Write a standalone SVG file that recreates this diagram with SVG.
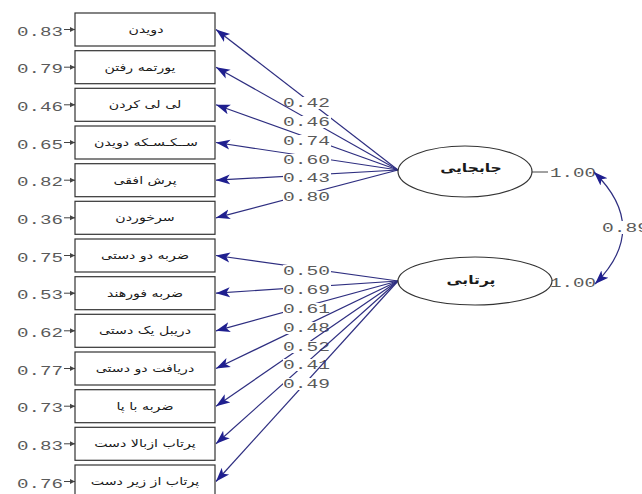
<svg xmlns="http://www.w3.org/2000/svg" width="642" height="494" viewBox="0 0 642 494">
<style>
.box{fill:#fff;stroke:#333;stroke-width:1.2}
.ell{fill:#fff;stroke:#333;stroke-width:1.2}
.fa{font-family:"DejaVu Sans",sans-serif;font-size:10.5px;fill:#1a1a1a;text-anchor:middle}
.fl{font-family:"DejaVu Sans",sans-serif;font-size:12px;font-weight:bold;fill:#1a1a1a;text-anchor:middle}
.num{font-family:"Liberation Mono",monospace;font-size:13px;fill:#5a5a5a}
.ld{stroke:#2e2e80;stroke-width:1.2;fill:none}
.er{stroke:#444;stroke-width:1;fill:none}
.bg{fill:#fff}
</style>
<defs>
<marker id="ah" markerUnits="userSpaceOnUse" markerWidth="16" markerHeight="12" refX="14" refY="5" orient="auto-start-reverse" viewBox="0 0 16 10">
<path d="M0,0 L14,5 L0,10 L3.5,5 Z" fill="#1f1f8f"/>
</marker>
<marker id="ahs" markerUnits="userSpaceOnUse" markerWidth="6" markerHeight="6" refX="5" refY="2.5" orient="auto" viewBox="0 0 6 5">
<path d="M0,0 L5,2.5 L0,5 Z" fill="#444"/>
</marker>
</defs>

<g id="connectors">
<line class="er" x1="64" y1="29.5" x2="75" y2="29.5" marker-end="url(#ahs)"/>
<line class="er" x1="64" y1="67.2" x2="75" y2="67.2" marker-end="url(#ahs)"/>
<line class="er" x1="64" y1="104.8" x2="75" y2="104.8" marker-end="url(#ahs)"/>
<line class="er" x1="64" y1="142.5" x2="75" y2="142.5" marker-end="url(#ahs)"/>
<line class="er" x1="64" y1="180.2" x2="75" y2="180.2" marker-end="url(#ahs)"/>
<line class="er" x1="64" y1="217.8" x2="75" y2="217.8" marker-end="url(#ahs)"/>
<line class="er" x1="64" y1="255.5" x2="75" y2="255.5" marker-end="url(#ahs)"/>
<line class="er" x1="64" y1="293.2" x2="75" y2="293.2" marker-end="url(#ahs)"/>
<line class="er" x1="64" y1="330.8" x2="75" y2="330.8" marker-end="url(#ahs)"/>
<line class="er" x1="64" y1="368.5" x2="75" y2="368.5" marker-end="url(#ahs)"/>
<line class="er" x1="64" y1="406.2" x2="75" y2="406.2" marker-end="url(#ahs)"/>
<line class="er" x1="64" y1="443.8" x2="75" y2="443.8" marker-end="url(#ahs)"/>
<line class="er" x1="64" y1="481.5" x2="75" y2="481.5" marker-end="url(#ahs)"/>
<text class="num" x="17" y="35.5" textLength="46" lengthAdjust="spacingAndGlyphs">0.83</text>
<text class="num" x="17" y="73.2" textLength="46" lengthAdjust="spacingAndGlyphs">0.79</text>
<text class="num" x="17" y="110.8" textLength="46" lengthAdjust="spacingAndGlyphs">0.46</text>
<text class="num" x="17" y="148.5" textLength="46" lengthAdjust="spacingAndGlyphs">0.65</text>
<text class="num" x="17" y="186.2" textLength="46" lengthAdjust="spacingAndGlyphs">0.82</text>
<text class="num" x="17" y="223.8" textLength="46" lengthAdjust="spacingAndGlyphs">0.36</text>
<text class="num" x="17" y="261.5" textLength="46" lengthAdjust="spacingAndGlyphs">0.75</text>
<text class="num" x="17" y="299.2" textLength="46" lengthAdjust="spacingAndGlyphs">0.53</text>
<text class="num" x="17" y="336.8" textLength="46" lengthAdjust="spacingAndGlyphs">0.62</text>
<text class="num" x="17" y="374.5" textLength="46" lengthAdjust="spacingAndGlyphs">0.77</text>
<text class="num" x="17" y="412.2" textLength="46" lengthAdjust="spacingAndGlyphs">0.73</text>
<text class="num" x="17" y="449.8" textLength="46" lengthAdjust="spacingAndGlyphs">0.83</text>
<text class="num" x="17" y="487.5" textLength="46" lengthAdjust="spacingAndGlyphs">0.76</text>

<line class="ld" x1="398" y1="170" x2="216" y2="29.5" marker-end="url(#ah)"/>
<rect class="bg" x="283" y="97" width="48" height="12"/>
<text class="num" x="283" y="107" textLength="47" lengthAdjust="spacingAndGlyphs">0.42</text>
<line class="ld" x1="398" y1="170" x2="216" y2="67.2" marker-end="url(#ah)"/>
<rect class="bg" x="283" y="116" width="48" height="12"/>
<text class="num" x="283" y="126" textLength="47" lengthAdjust="spacingAndGlyphs">0.46</text>
<line class="ld" x1="398" y1="170" x2="216" y2="104.8" marker-end="url(#ah)"/>
<rect class="bg" x="283" y="135" width="48" height="12"/>
<text class="num" x="283" y="145" textLength="47" lengthAdjust="spacingAndGlyphs">0.74</text>
<line class="ld" x1="398" y1="170" x2="216" y2="142.5" marker-end="url(#ah)"/>
<rect class="bg" x="283" y="154" width="48" height="12"/>
<text class="num" x="283" y="164" textLength="47" lengthAdjust="spacingAndGlyphs">0.60</text>
<line class="ld" x1="398" y1="170" x2="216" y2="180.2" marker-end="url(#ah)"/>
<rect class="bg" x="283" y="172" width="48" height="12"/>
<text class="num" x="283" y="182" textLength="47" lengthAdjust="spacingAndGlyphs">0.43</text>
<line class="ld" x1="398" y1="170" x2="216" y2="217.8" marker-end="url(#ah)"/>
<rect class="bg" x="283" y="191" width="48" height="12"/>
<text class="num" x="283" y="201" textLength="47" lengthAdjust="spacingAndGlyphs">0.80</text>

<line class="ld" x1="398" y1="281" x2="216" y2="255.5" marker-end="url(#ah)"/>
<rect class="bg" x="283" y="265" width="48" height="12"/>
<text class="num" x="283" y="275" textLength="47" lengthAdjust="spacingAndGlyphs">0.50</text>
<line class="ld" x1="398" y1="281" x2="216" y2="293.2" marker-end="url(#ah)"/>
<rect class="bg" x="283" y="284" width="48" height="12"/>
<text class="num" x="283" y="294" textLength="47" lengthAdjust="spacingAndGlyphs">0.69</text>
<line class="ld" x1="398" y1="281" x2="216" y2="330.8" marker-end="url(#ah)"/>
<rect class="bg" x="283" y="303" width="48" height="12"/>
<text class="num" x="283" y="313" textLength="47" lengthAdjust="spacingAndGlyphs">0.61</text>
<line class="ld" x1="398" y1="281" x2="216" y2="368.5" marker-end="url(#ah)"/>
<rect class="bg" x="283" y="322" width="48" height="12"/>
<text class="num" x="283" y="332" textLength="47" lengthAdjust="spacingAndGlyphs">0.48</text>
<line class="ld" x1="398" y1="281" x2="216" y2="406.2" marker-end="url(#ah)"/>
<rect class="bg" x="283" y="341" width="48" height="12"/>
<text class="num" x="283" y="351" textLength="47" lengthAdjust="spacingAndGlyphs">0.52</text>
<line class="ld" x1="398" y1="281" x2="216" y2="443.8" marker-end="url(#ah)"/>
<rect class="bg" x="283" y="359" width="48" height="12"/>
<text class="num" x="283" y="369" textLength="47" lengthAdjust="spacingAndGlyphs">0.41</text>
<line class="ld" x1="398" y1="281" x2="216" y2="481.5" marker-end="url(#ah)"/>
<rect class="bg" x="283" y="378" width="48" height="12"/>
<text class="num" x="283" y="388" textLength="47" lengthAdjust="spacingAndGlyphs">0.49</text>

<line class="er" x1="532" y1="172" x2="548" y2="172"/>
<text class="num" x="550" y="177" textLength="46" lengthAdjust="spacingAndGlyphs">1.00</text>
<text class="num" x="550" y="287" textLength="46" lengthAdjust="spacingAndGlyphs">1.00</text>

<path class="ld" d="M594,172 Q651,228 595,284" marker-start="url(#ah)" marker-end="url(#ah)"/>
<rect class="bg" x="600" y="221" width="42" height="13"/>
<text class="num" x="602" y="232" textLength="47" lengthAdjust="spacingAndGlyphs">0.89</text>
</g>

<g id="n1"><rect class="box" x="75" y="13" width="140" height="33"/><text class="fa" transform="translate(146,33) scale(1.35,1)">دویدن</text></g>
<g id="n2"><rect class="box" x="75" y="50.7" width="140" height="33"/><text class="fa" transform="translate(140,70.7) scale(1.35,1)">یورتمه رفتن</text></g>
<g id="n3"><rect class="box" x="75" y="88.3" width="140" height="33"/><text class="fa" transform="translate(145,108.3) scale(1.35,1)">لی لی کردن</text></g>
<g id="n4"><rect class="box" x="75" y="126" width="140" height="33"/><text class="fa" transform="translate(146,146) scale(1.35,1)">ســکـسـکه دویدن</text></g>
<g id="n5"><rect class="box" x="75" y="163.7" width="140" height="33"/><text class="fa" transform="translate(145,183.7) scale(1.35,1)">پرش افقی</text></g>
<g id="n6"><rect class="box" x="75" y="201.3" width="140" height="33"/><text class="fa" transform="translate(145,221.3) scale(1.35,1)">سرخوردن</text></g>
<g id="n7"><rect class="box" x="75" y="239" width="140" height="33"/><text class="fa" transform="translate(145,259) scale(1.35,1)">ضربه دو دستی</text></g>
<g id="n8"><rect class="box" x="75" y="276.7" width="140" height="33"/><text class="fa" transform="translate(145,296.7) scale(1.35,1)">ضربه فورهند</text></g>
<g id="n9"><rect class="box" x="75" y="314.3" width="140" height="33"/><text class="fa" transform="translate(145,334.3) scale(1.35,1)">دریبل یک دستی</text></g>
<g id="n10"><rect class="box" x="75" y="352" width="140" height="33"/><text class="fa" transform="translate(145,372) scale(1.35,1)">دریافت دو دستی</text></g>
<g id="n11"><rect class="box" x="75" y="389.7" width="140" height="33"/><text class="fa" transform="translate(145,409.7) scale(1.35,1)">ضربه با پا</text></g>
<g id="n12"><rect class="box" x="75" y="427.3" width="140" height="33"/><text class="fa" transform="translate(145,447.3) scale(1.35,1)">پرتاب ازبالا دست</text></g>
<g id="n13"><rect class="box" x="75" y="465" width="140" height="33"/><text class="fa" transform="translate(145,485) scale(1.35,1)">پرتاب از زیر دست</text></g>

<g id="f1"><ellipse class="ell" cx="465" cy="171.5" rx="67" ry="25.5"/><text class="fl" transform="translate(471,172) scale(1.3,1)">جابجایی</text></g>
<g id="f2"><ellipse class="ell" cx="475" cy="281" rx="77" ry="24"/><text class="fl" transform="translate(471,284) scale(1.3,1)">پرتابی</text></g>
</svg>
